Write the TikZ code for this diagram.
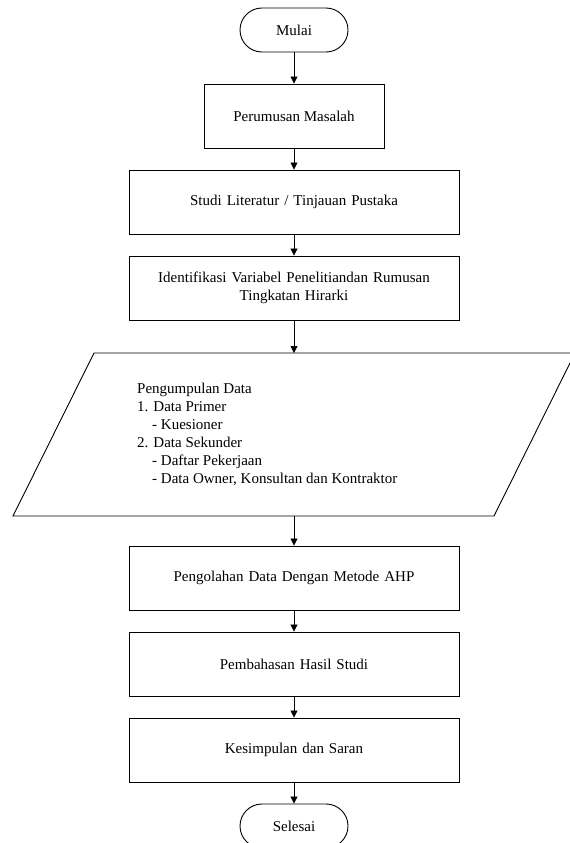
\documentclass[tikz,border=0pt]{standalone}
\usepackage{fontspec}
\setmainfont{Liberation Serif}
\usetikzlibrary{arrows.meta}
\begin{document}
\begin{tikzpicture}[x=1pt,y=-1pt,
  txt/.style={font=\fontsize{15}{18}\selectfont},
  box/.style={txt, draw=black, line width=0.9pt, minimum height=64pt, align=center, inner sep=0pt},
  narrowbox/.style={box, minimum width=180pt},
  widebox/.style={box, minimum width=330pt, text width=310pt},
  term/.style={txt, draw=black, line width=0.9pt, rounded corners=22pt, minimum width=108pt, minimum height=44pt},
  arr/.style={-{Triangle[length=7pt,width=7pt]}, line width=0.8pt}]
\useasboundingbox (0,0) rectangle (570,843);
\node[term] (mulai) at (294,30) {Mulai};
\node[narrowbox] (p1) at (294,116) {Perumusan Masalah};
\node[widebox] (p2) at (294,202) {Studi Literatur / Tinjauan Pustaka};
\node[widebox] (p3) at (294,288) {Identifikasi Variabel Penelitiandan Rumusan\\Tingkatan Hirarki};
\coordinate (ptop) at (294,353);
\coordinate (pbot) at (294,516);
\draw[line width=0.9pt] (94,353) -- (575,353) -- (494,516) -- (13,516) -- cycle;
\node[txt, anchor=west, align=left, inner sep=0pt] (data) at (137,434)
  {Pengumpulan Data\\
   1. Data Primer\\
   \hspace*{15pt}- Kuesioner\\
   2. Data Sekunder\\
   \hspace*{15pt}- Daftar Pekerjaan\\
   \hspace*{15pt}- Data Owner, Konsultan dan Kontraktor};
\node[widebox] (p5) at (294,578) {Pengolahan Data Dengan Metode AHP};
\node[widebox] (p6) at (294,664) {Pembahasan Hasil Studi};
\node[widebox] (p7) at (294,750) {Kesimpulan dan Saran};
\node[term] (selesai) at (294,826) {Selesai};
\draw[arr] (mulai) -- (p1);
\draw[arr] (p1) -- (p2);
\draw[arr] (p2) -- (p3);
\draw[arr] (p3) -- (ptop);
\draw[arr] (pbot) -- (p5);
\draw[arr] (p5) -- (p6);
\draw[arr] (p6) -- (p7);
\draw[arr] (p7) -- (selesai);
\end{tikzpicture}
\end{document}
